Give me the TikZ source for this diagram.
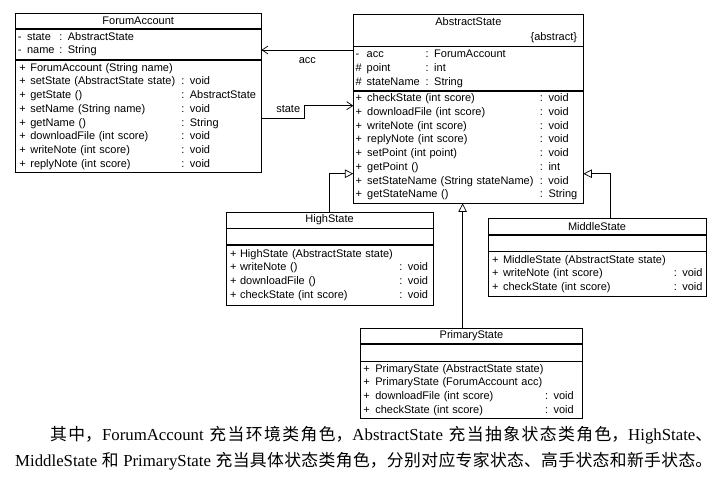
\documentclass[tikz,border=0pt]{standalone}
\usepackage{fontspec}
\usepackage{array}
\setmainfont{Liberation Serif}
\newfontfamily\umlfont{Liberation Sans}
\newfontfamily\cjk{Noto Sans CJK SC}
\usetikzlibrary{arrows.meta,positioning}

\XeTeXlinebreaklocale "zh"
\XeTeXlinebreakskip=0pt plus 2pt minus 0.5pt

% member list: left gap, sign column, name column, rows
\newcommand{\members}[4]{\begin{tabular}{@{\hspace{#1}}p{#2}@{}p{#3}@{}l@{}}#4\end{tabular}}

\begin{document}
\begin{tikzpicture}[x=1pt, y=-1pt,
    umlclass/.style={draw, line width=0.7pt, anchor=north west, inner sep=0pt, align=center, font=\umlfont\fontsize{11}{13.75}\selectfont},
    umlpart/.style={draw, line width=0.7pt, inner sep=0pt, align=left, font=\umlfont\fontsize{11}{13.75}\selectfont},
    association/.style={-{Straight Barb[length=6pt, width=8pt]}, line width=0.7pt},
    inheritance/.style={-{Triangle[open, length=8.5pt, width=8.5pt, fill=white]}, line width=0.7pt},
    note/.style={font=\umlfont\fontsize{11}{13.75}\selectfont, inner sep=0pt},
    para/.style={anchor=north west, inner sep=0pt, text width=697pt, align=justify, font=\fontsize{16.8}{26}\selectfont}
]
\useasboundingbox (0,0) rectangle (723,481);

% ForumAccount
\node[umlclass, text width=245.7pt, minimum height=15.6pt] (fa) at (15,12.7) {ForumAccount};
\node[umlpart, text width=245.7pt, minimum height=30pt, below=0pt of fa] (faattr)
  {\members{2.5pt}{9.2pt}{32.3pt}{- & state & : AbstractState\\ - & name & : String}};
\node[umlpart, text width=245.7pt, minimum height=112.7pt, below=0pt of faattr] (faops)
  {\members{4pt}{11pt}{151pt}{
  + & ForumAccount (String name) & \\
  + & setState (AbstractState state) & : void\\
  + & getState () & : AbstractState\\
  + & setName (String name) & : void\\
  + & getName () & : String\\
  + & downloadFile (int score) & : void\\
  + & writeNote (int score) & : void\\
  + & replyNote (int score) & : void}};

% AbstractState
\node[umlclass, text width=229.4pt, minimum height=31.7pt] (as) at (353.3,14)
  {AbstractState\\[1pt]\hfill\{abstract\}\hspace{6pt}\mbox{}};
\node[umlpart, text width=229.4pt, minimum height=43.6pt, below=0pt of as] (asattr)
  {\members{2pt}{11pt}{59pt}{- & acc & : ForumAccount\\ \# & point & : int\\ \# & stateName & : String}};
\node[umlpart, text width=229.4pt, minimum height=112pt, below=0pt of asattr] (asops)
  {\members{2pt}{11.6pt}{172.7pt}{
  + & checkState (int score) & : void\\
  + & downloadFile (int score) & : void\\
  + & writeNote (int score) & : void\\
  + & replyNote (int score) & : void\\
  + & setPoint (int point) & : void\\
  + & getPoint () & : int\\
  + & setStateName (String stateName) & : void\\
  + & getStateName () & : String}};

% HighState
\node[umlclass, text width=207pt, minimum height=16pt] (hs) at (225.7,211.7) {HighState};
\node[umlpart, text width=207pt, minimum height=15.6pt, below=0pt of hs] (hsattr) {};
\node[umlpart, text width=207pt, minimum height=60pt, below=0pt of hsattr] (hsops)
  {\members{4pt}{10pt}{159.3pt}{
  + & HighState (AbstractState state) & \\
  + & writeNote () & : void\\
  + & downloadFile () & : void\\
  + & checkState (int score) & : void}};

% MiddleState
\node[umlclass, text width=218pt, minimum height=16.3pt] (ms) at (487.7,217.7) {MiddleState};
\node[umlpart, text width=218pt, minimum height=16pt, below=0pt of ms] (msattr) {};
\node[umlpart, text width=218pt, minimum height=45pt, below=0pt of msattr] (msops)
  {\members{4pt}{11pt}{170.7pt}{
  + & MiddleState (AbstractState state) & \\
  + & writeNote (int score) & : void\\
  + & checkState (int score) & : void}};

% PrimaryState
\node[umlclass, text width=222.3pt, minimum height=15.6pt] (ps) at (360,327.7) {PrimaryState};
\node[umlpart, text width=222.3pt, minimum height=16.7pt, below=0pt of ps] (psattr) {};
\node[umlpart, text width=222.3pt, minimum height=56.7pt, below=0pt of psattr] (psops)
  {\members{3pt}{12pt}{169.7pt}{
  + & PrimaryState (AbstractState state) & \\
  + & PrimaryState (ForumAccount acc) & \\
  + & downloadFile (int score) & : void\\
  + & checkState (int score) & : void}};

% associations
\draw[association] ([yshift=-3.6pt]asattr.north west) coordinate (accfrom) -- (faattr.east |- accfrom)
  node[midway, below=7pt, note] {acc};
\draw[association] ([yshift=-58.4pt]faops.north east) -- node[above=5pt, pos=0.62, note] {state} ++(43.3pt,0)
  |- ([yshift=-15pt]asops.north west);

% generalizations
\draw[inheritance] (hs.north) |- ([yshift=-83pt]asops.north west);
\draw[inheritance] ([xshift=13.3pt]ms.north) |- ([yshift=-83pt]asops.north east);
\draw[inheritance] ([xshift=-8.9pt]ps.north) coordinate (psup) -- (asops.south -| psup);

% text below the diagram
\node[para] (text) at (15,426) {\parfillskip=0pt\noindent\hspace*{35pt}{\cjk 其中，}ForumAccount {\cjk 充当环境类角色，}AbstractState {\cjk 充当抽象状态类角色，}HighState{\cjk 、}\linebreak
  MiddleState {\cjk 和} PrimaryState {\cjk 充当具体状态类角色，分别对应专家状态、高手状态和新手状态。}\par};

\end{tikzpicture}
\end{document}
